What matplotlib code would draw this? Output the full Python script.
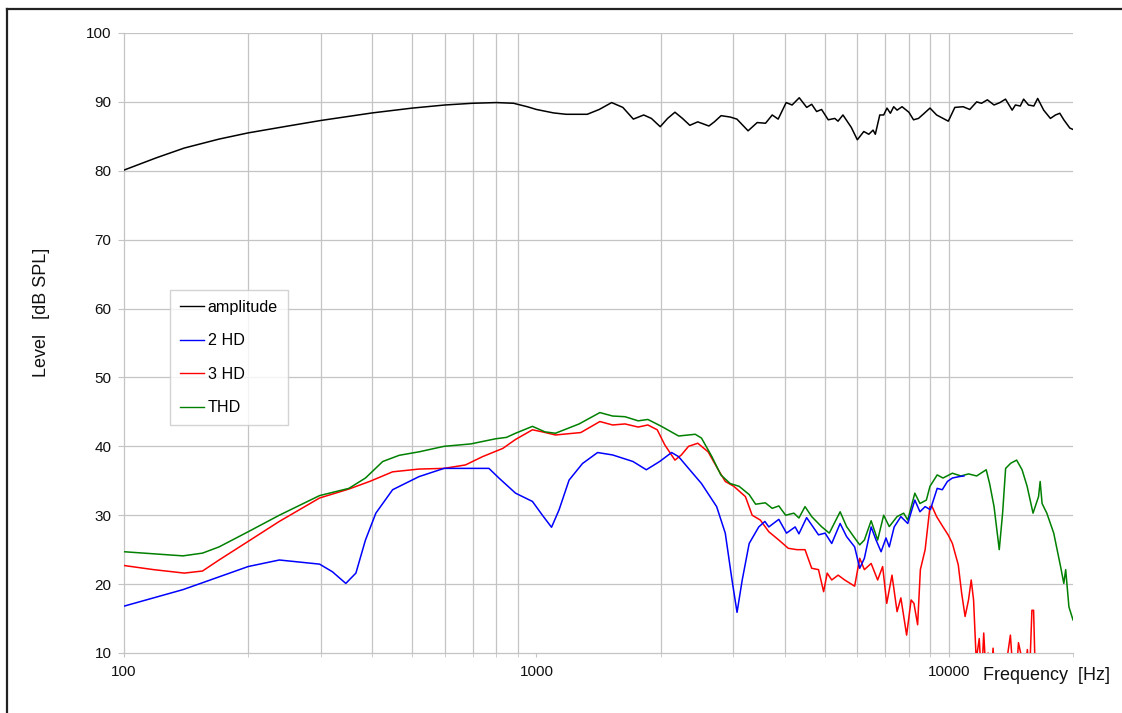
import matplotlib
matplotlib.use("Agg")
import matplotlib.pyplot as plt
from matplotlib.lines import Line2D

# ---------------- data ----------------
amp_f = [100, 120, 140, 170, 200, 250, 300, 400, 500, 600, 700, 800, 880, 950, 1000, 1100, 1180,
         1328, 1420, 1522, 1620, 1718, 1820, 1900, 1996, 2080, 2167, 2260, 2355, 2461, 2620, 2700,
         2804, 2950, 3063, 3260, 3430, 3594, 3730, 3856, 4032, 4168, 4338, 4522, 4650, 4780, 4913,
         5100, 5290, 5386, 5536, 5800, 5999, 6220, 6396, 6550, 6633, 6800, 6950, 7080, 7215, 7350,
         7490, 7700, 8000, 8210, 8440, 8700, 9000, 9340, 9970, 10340, 10830, 11240, 11680, 12000,
         12400, 12870, 13300, 13720, 14240, 14500, 14900, 15180, 15600, 16070, 16420, 16980, 17630,
         18140, 18580, 19000, 19650, 20000]
amp_db = [80.1, 81.9, 83.3, 84.6, 85.5, 86.5, 87.3, 88.4, 89.1, 89.55, 89.8, 89.9, 89.8, 89.3, 88.9,
          88.4, 88.2, 88.2, 88.9, 89.9, 89.2, 87.5, 88.1, 87.6, 86.4, 87.6, 88.5, 87.6, 86.6, 87.1,
          86.5, 87.1, 88.0, 87.8, 87.5, 85.8, 87.0, 86.9, 88.1, 87.5, 89.9, 89.55, 90.6, 89.2, 89.65,
          88.6, 88.9, 87.4, 87.6, 87.2, 88.1, 86.3, 84.5, 85.7, 85.3, 85.9, 85.3, 88.1, 88.1, 89.1,
          88.35, 89.3, 88.8, 89.3, 88.5, 87.4, 87.6, 88.3, 89.1, 88.1, 87.2, 89.2, 89.3, 88.9, 90.0,
          89.8, 90.3, 89.55, 89.9, 90.4, 88.8, 89.55, 89.4, 90.4, 89.55, 89.4, 90.5, 88.8, 87.6,
          88.1, 88.35, 87.4, 86.2, 86.0]

hd2_f = [100, 139, 155, 200, 238, 298, 320, 345, 365, 385, 408, 448, 519, 597, 767, 811, 890, 978,
         1034, 1088, 1135, 1200, 1293, 1407, 1530, 1714, 1847, 1990, 2127, 2212, 2338, 2513, 2735,
         2870, 2980, 3065, 3155, 3280, 3460, 3580, 3660, 3870, 4040, 4240, 4330, 4520, 4830, 5010,
         5200, 5450, 5650, 5910, 6080, 6240, 6480, 6660, 6850, 7040, 7170, 7370, 7650, 7950, 8270,
         8510, 8760, 9020, 9370, 9640, 9920, 10200, 10580, 10880]
hd2_db = [16.8, 19.2, 20.2, 22.55, 23.5, 22.9, 21.8, 20.1, 21.6, 26.4, 30.3, 33.7, 35.6, 36.8, 36.8,
          35.4, 33.2, 32.0, 30.0, 28.25, 30.8, 35.1, 37.5, 39.1, 38.75, 37.8, 36.6, 37.8, 39.1, 38.5,
          36.8, 34.6, 31.25, 27.4, 20.6, 15.9, 20.6, 25.9, 28.3, 29.1, 28.3, 29.4, 27.4, 28.3, 27.3,
          29.65, 27.15, 27.4, 25.9, 28.8, 26.9, 25.4, 22.3, 23.75, 28.3, 26.4, 24.7, 26.7, 25.4, 28.3,
          29.8, 28.8, 32.2, 30.5, 31.25, 30.8, 33.9, 33.7, 34.9, 35.4, 35.6, 35.7]

hd3_f = [100, 118, 140, 155, 170, 200, 238, 298, 351, 394, 448, 519, 597, 673, 740, 829, 890, 978,
         1034, 1112, 1281, 1425, 1530, 1640, 1765, 1863, 1963, 2048, 2167, 2246, 2338, 2462, 2608,
         2760, 2870, 3010, 3212, 3335, 3490, 3660, 3870, 4080, 4280, 4480, 4650, 4830, 4970, 5070,
         5200, 5390, 5590, 5910, 6080, 6240, 6480, 6720, 6910, 7070, 7280, 7490, 7650, 7900, 8100,
         8230, 8400, 8530, 8760, 9000, 9100, 9340, 9680, 9970, 10200, 10540, 10740, 10950, 11160,
         11330, 11480, 11650, 11850, 12000, 12150, 12300, 12450, 12650, 12800, 12950, 13600, 14100,
         14350, 14550, 14750, 15300, 15500, 15700, 15900, 16050, 16200, 16400, 16600, 16900, 20000]
hd3_db = [22.7, 22.1, 21.6, 21.9, 23.5, 26.2, 29.1, 32.5, 33.8, 34.9, 36.3, 36.7, 36.8, 37.3, 38.5,
          39.7, 41.0, 42.4, 42.1, 41.65, 42.0, 43.6, 43.1, 43.25, 42.8, 43.1, 42.4, 40.2, 38.0, 38.75,
          40.0, 40.45, 39.2, 36.6, 34.9, 34.2, 32.7, 30.0, 29.3, 27.6, 26.4, 25.2, 25.0, 25.0, 22.3,
          22.1, 18.9, 21.6, 20.6, 21.3, 20.6, 19.7, 23.75, 22.1, 23.0, 20.6, 22.55, 17.2, 21.3, 16.0,
          18.0, 12.6, 17.7, 17.2, 14.1, 22.1, 25.0, 31.25, 31.3, 29.8, 28.3, 27.1, 25.9, 22.8, 18.7,
          15.3, 17.7, 20.6, 17.7, 9.0, 12.1, 6.0, 12.9, 7.0, 10.0, 6.0, 10.7, 6.0, 6.0, 12.6, 6.0,
          6.0, 11.5, 7.0, 10.5, 7.0, 16.2, 16.2, 7.0, 5.0, 5.0, 5.0, 5.0]

thd_f = [100, 139, 155, 170, 200, 238, 298, 351, 385, 424, 465, 519, 597, 693, 797, 846, 890, 978,
         1049, 1112, 1269, 1425, 1530, 1640, 1765, 1863, 2010, 2212, 2427, 2513, 2664, 2800, 2950,
         3100, 3280, 3400, 3590, 3730, 3870, 4020, 4210, 4330, 4480, 4650, 4910, 5130, 5450, 5650,
         5910, 6080, 6240, 6480, 6720, 6950, 7170, 7490, 7770, 7950, 8270, 8510, 8820, 9000, 9370,
         9680, 10200, 10700, 11160, 11680, 12320, 12560, 12870, 13250, 13500, 13730, 14130, 14600,
         15050, 15480, 16000, 16500, 16650, 16830, 17280, 17960, 18660, 19000, 19200, 19550, 20000]
thd_db = [24.7, 24.1, 24.5, 25.4, 27.6, 30.0, 32.85, 33.9, 35.4, 37.8, 38.7, 39.2, 40.0, 40.35, 41.1,
          41.3, 41.9, 42.9, 42.1, 41.9, 43.25, 44.9, 44.4, 44.3, 43.7, 43.9, 42.9, 41.5, 41.75, 41.2,
          38.5, 35.85, 34.6, 34.2, 33.0, 31.6, 31.8, 31.0, 31.35, 30.0, 30.3, 29.6, 31.25, 29.8, 28.35,
          27.4, 30.5, 28.35, 26.7, 25.7, 26.4, 29.2, 26.4, 30.0, 28.35, 29.8, 30.3, 29.3, 33.2, 31.7,
          32.2, 34.2, 35.85, 35.4, 36.1, 35.7, 36.0, 35.7, 36.6, 34.55, 31.25, 25.0, 30.3, 36.8, 37.55,
          38.0, 36.6, 34.2, 30.3, 32.7, 34.9, 31.7, 30.3, 27.4, 22.55, 20.1, 22.1, 16.7, 14.8]

series_labels = ["amplitude", "2 HD", "3 HD", "THD"]
x_major = [100, 1000, 10000]
x_major_labels = ["100", "1000", "10000"]
x_grid = [200, 300, 400, 500, 600, 700, 800, 900,
          2000, 3000, 4000, 5000, 6000, 7000, 8000, 9000, 10000]
y_ticks = [10, 20, 30, 40, 50, 60, 70, 80, 90, 100]

# ---------------- plot ----------------
plt.rcParams['font.family'] = ['Liberation Sans', 'DejaVu Sans']
W, H = 1122, 713
fig = plt.figure(figsize=(W / 100, H / 100), dpi=100)
ax = fig.add_axes([124 / W, 1 - 653 / H, (1073 - 124) / W, (653 - 33) / H])

ax.set_xscale('log')
ax.set_xlim(100, 20000)
ax.set_ylim(10, 100)

gridc = '#c4c4c4'
for v in y_ticks[1:]:
    ax.axhline(v, color=gridc, lw=0.9, zorder=1)
for f in x_grid:
    ax.axvline(f, color=gridc, lw=0.9, zorder=1)

ax.plot(amp_f, amp_db, color='black', lw=1.1, label=series_labels[0], zorder=5)
ax.plot(hd2_f, hd2_db, color='#0000ff', lw=1.1, label=series_labels[1], zorder=4)
ax.plot(hd3_f, hd3_db, color='#ff0000', lw=1.1, label=series_labels[2], zorder=3)
ax.plot(thd_f, thd_db, color='#008000', lw=1.1, label=series_labels[3], zorder=3.5)

ax.set_xticks(x_major)
ax.set_xticklabels(x_major_labels)
ax.set_xticks(x_grid + [20000], minor=True)
ax.xaxis.set_minor_formatter(matplotlib.ticker.NullFormatter())
ax.set_yticks(y_ticks)
ax.tick_params(axis='both', which='both', color=gridc, labelsize=11, labelcolor='#111111')
ax.tick_params(axis='x', which='both', length=3, pad=6)
ax.tick_params(axis='y', length=4, pad=5)

for s in ['top', 'right']:
    ax.spines[s].set_visible(False)
for s in ['left', 'bottom']:
    ax.spines[s].set_color(gridc)
    ax.spines[s].set_linewidth(0.9)

leg = ax.legend(loc='upper left', bbox_to_anchor=((170 - 124) / 949, (653 - 290) / 620),
                fontsize=11.6, frameon=True, fancybox=False, edgecolor='#c8c8c8',
                handlelength=1.5, handletextpad=0.25, labelspacing=1.15,
                borderpad=0.6, borderaxespad=0)
leg.get_frame().set_linewidth(1.0)
for h in leg.get_lines():
    h.set_linewidth(1.0)

fig.text(983 / W, 1 - 675 / H, "Frequency  [Hz]", ha='left', va='center', fontsize=13,
         color='#111111')
fig.text(41 / W, 1 - 312 / H, "Level   [dB SPL]", ha='center', va='center', fontsize=13,
         rotation=90, color='#111111')

# outer frame (top and left edges visible)
fig.add_artist(Line2D([7 / W, 7 / W], [0, 1 - 9 / H], transform=fig.transFigure,
                      color='#222222', lw=1.6))
fig.add_artist(Line2D([7 / W, 1], [1 - 9 / H, 1 - 9 / H], transform=fig.transFigure,
                      color='#222222', lw=1.6))

fig.savefig('out.png', dpi=100)
